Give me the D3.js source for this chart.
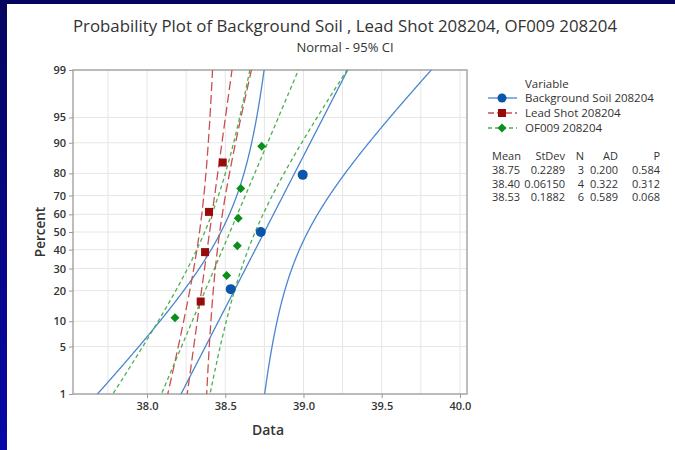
<!DOCTYPE html>
<html>
<head>
<meta charset="utf-8">
<script src="https://cdn.jsdelivr.net/npm/d3@7"></script>
<style>
  body { margin: 0; background: #fff; }
  svg text { font-family: "Open Sans", "Noto Sans", sans-serif; fill: #333; }
</style>
</head>
<body>
<div id="chart"></div>
<script>
// data
var seriesNames = ['Background Soil 208204', 'Lead Shot 208204', 'OF009 208204']
var bgSoil = [38.535, 38.727, 38.995]
var leadShot = [38.343, 38.371, 38.396, 38.484]
var of009 = [38.179, 38.509, 38.577, 38.583, 38.599, 38.733]
var means = [38.75, 38.40, 38.53]
var stdevs = [0.2289, 0.06150, 0.1882]
var counts = [3, 4, 6]
var adStats = ['0.200', '0.322', '0.589']
var pValues = ['0.584', '0.312', '0.068']
var meanLabels = ['38.75', '38.40', '38.53']
var stdevLabels = ['0.2289', '0.06150', '0.1882']
var xTicks = [38.0, 38.5, 39.0, 39.5, 40.0]
var xGrid = [37.75, 38.0, 38.25, 38.5, 38.75, 39.0, 39.25, 39.5, 39.75, 40.0]
var yTicks = [1, 5, 10, 20, 30, 40, 50, 60, 70, 80, 90, 95, 99]

var colors = ['#4a86cf', '#c85050', '#4caf50']
var markerColors = ['#0b56a8', '#990a0a', '#0a8f1a']
var dashes = [null, '9,4', '4,3']

// inverse normal cdf (Acklam)
function probit(p) {
  var a = [-3.969683028665376e+01, 2.209460984245205e+02, -2.759285104469687e+02, 1.383577518672690e+02, -3.066479806614716e+01, 2.506628277459239e+00]
  var b = [-5.447609879822406e+01, 1.615858368580409e+02, -1.556989798598866e+02, 6.680131188771972e+01, -1.328068155288572e+01]
  var c = [-7.784894002430293e-03, -3.223964580411365e-01, -2.400758277161838e+00, -2.549732539343734e+00, 4.374664141464968e+00, 2.938163982698783e+00]
  var d = [7.784695709041462e-03, 3.224671290700398e-01, 2.445134137142996e+00, 3.754408661907416e+00]
  var q, r
  if (p < 0.02425) {
    q = Math.sqrt(-2 * Math.log(p))
    return (((((c[0]*q+c[1])*q+c[2])*q+c[3])*q+c[4])*q+c[5]) / ((((d[0]*q+d[1])*q+d[2])*q+d[3])*q+1)
  } else if (p > 1 - 0.02425) {
    q = Math.sqrt(-2 * Math.log(1 - p))
    return -(((((c[0]*q+c[1])*q+c[2])*q+c[3])*q+c[4])*q+c[5]) / ((((d[0]*q+d[1])*q+d[2])*q+d[3])*q+1)
  }
  q = p - 0.5
  r = q * q
  return (((((a[0]*r+a[1])*r+a[2])*r+a[3])*r+a[4])*r+a[5])*q / (((((b[0]*r+b[1])*r+b[2])*r+b[3])*r+b[4])*r+1)
}

var W = 675, H = 450
var plot = {left: 73, top: 70, right: 467, bottom: 394}

var svg = d3.select('#chart').append('svg')
  .attr('width', W)
  .attr('height', H)

var defs = svg.append('defs')
var grad = defs.append('linearGradient').attr('id', 'edge')
  .attr('x1', 0).attr('y1', 0).attr('x2', 0).attr('y2', 1)
grad.append('stop').attr('offset', '0%').attr('stop-color', '#050560')
grad.append('stop').attr('offset', '100%').attr('stop-color', '#0808a8')
defs.append('clipPath').attr('id', 'clip').append('rect')
  .attr('x', plot.left).attr('y', plot.top)
  .attr('width', plot.right - plot.left).attr('height', plot.bottom - plot.top)

// frame of the screenshot
svg.append('rect').attr('x', 0).attr('y', 0).attr('width', 7).attr('height', H).attr('fill', 'url(#edge)')
svg.append('rect').attr('x', 0).attr('y', 0).attr('width', W).attr('height', 4).attr('fill', '#050560')

var x = d3.scaleLinear().domain([37.527, 40.045]).range([plot.left, plot.right])
var zMax = probit(0.99)
var y = d3.scaleLinear().domain([-zMax, zMax]).range([plot.bottom, plot.top])
var yp = function (p) { return y(probit(p / 100)) }

// grid
svg.append('g').selectAll('line').data(xGrid).join('line')
  .attr('x1', d => x(d)).attr('x2', d => x(d))
  .attr('y1', plot.top).attr('y2', plot.bottom)
  .attr('stroke', '#e6e6e6').attr('stroke-width', 1)
svg.append('g').selectAll('line').data(yTicks).join('line')
  .attr('x1', plot.left).attr('x2', plot.right)
  .attr('y1', d => yp(d)).attr('y2', d => yp(d))
  .attr('stroke', '#e6e6e6').attr('stroke-width', 1)

svg.append('rect')
  .attr('x', plot.left).attr('y', plot.top)
  .attr('width', plot.right - plot.left).attr('height', plot.bottom - plot.top)
  .attr('fill', 'none').attr('stroke', '#a8a8a8').attr('stroke-width', 1.5)

// fitted lines and 95% bands
var zs = d3.range(-2.4, 2.401, 0.02)
var ciMult = 2.1
var lines = svg.append('g').attr('clip-path', 'url(#clip)')
var line = d3.line().x(d => x(d[0])).y(d => y(d[1]))

seriesNames.forEach(function (name, i) {
  var m = means[i], s = stdevs[i], n = counts[i]
  var half = z => ciMult * s * Math.sqrt(1 / n + z * z / (2 * n))
  var curves = [
    zs.map(z => [m + z * s - half(z), z]),
    zs.map(z => [m + z * s, z]),
    zs.map(z => [m + z * s + half(z), z])
  ]
  lines.selectAll(null).data(curves).join('path')
    .attr('d', line)
    .attr('fill', 'none')
    .attr('stroke', colors[i])
    .attr('stroke-width', 1.3)
    .attr('stroke-dasharray', dashes[i])
})

// points, median ranks
var sets = [bgSoil, leadShot, of009]
var pts = svg.append('g')
sets.forEach(function (vals, i) {
  var n = vals.length
  var data = vals.slice().sort(d3.ascending).map((v, k) => [v, 100 * (k + 1 - 0.3) / (n + 0.4)])
  var g = pts.selectAll(null).data(data).join('g')
    .attr('transform', d => 'translate(' + x(d[0]) + ',' + yp(d[1]) + ')')
  if (i === 0) g.append('circle').attr('r', 5).attr('fill', markerColors[i])
  else if (i === 1) g.append('rect').attr('x', -4).attr('y', -4).attr('width', 8).attr('height', 8).attr('fill', markerColors[i])
  else g.append('path').attr('d', 'M0,-4.5L4.5,0L0,4.5L-4.5,0Z').attr('fill', markerColors[i])
})

// axes
var xAxis = d3.axisBottom(x).tickValues(xTicks).tickFormat(d3.format('.1f')).tickSize(4).tickPadding(4)
var yAxis = d3.axisLeft(y).tickValues(yTicks.map(p => probit(p / 100))).tickFormat((d, k) => yTicks[k]).tickSize(4).tickPadding(3)

var gx = svg.append('g').attr('transform', 'translate(0,' + plot.bottom + ')').call(xAxis)
var gy = svg.append('g').attr('transform', 'translate(' + plot.left + ',0)').call(yAxis)
;[gx, gy].forEach(function (g) {
  g.select('.domain').remove()
  g.selectAll('line').attr('stroke', '#999')
  g.selectAll('text').style('font-size', '11px').style('font-weight', 600).attr('fill', '#333')
})

svg.append('text').attr('x', 345).attr('y', 32)
  .attr('text-anchor', 'middle').style('font-size', '16.5px').style('font-weight', 500)
  .attr('textLength', 544).attr('lengthAdjust', 'spacingAndGlyphs')
  .text('Probability Plot of Background Soil , Lead Shot 208204, OF009 208204')
svg.append('text').attr('x', 345).attr('y', 52)
  .attr('text-anchor', 'middle').style('font-size', '13px').attr('fill', '#595959')
  .text('Normal - 95% CI')
svg.append('text').attr('x', 268).attr('y', 435)
  .attr('text-anchor', 'middle').style('font-size', '14px').style('font-weight', 600)
  .text('Data')
svg.append('text').attr('transform', 'translate(45,232) rotate(-90)')
  .attr('text-anchor', 'middle').style('font-size', '13.5px').style('font-weight', 600)
  .text('Percent')

// legend
var leg = svg.append('g')
leg.append('text').attr('x', 525).attr('y', 88).style('font-size', '11.5px').text('Variable')
seriesNames.forEach(function (name, i) {
  var ly = 98 + i * 15
  leg.append('line').attr('x1', 488).attr('x2', 517).attr('y1', ly).attr('y2', ly)
    .attr('stroke', colors[i]).attr('stroke-width', 1.3).attr('stroke-dasharray', dashes[i] ? (i === 1 ? '6,3' : '4,3') : null)
  var mk = leg.append('g').attr('transform', 'translate(502,' + ly + ')')
  if (i === 0) mk.append('circle').attr('r', 4.5).attr('fill', markerColors[i])
  else if (i === 1) mk.append('rect').attr('x', -4).attr('y', -4).attr('width', 8).attr('height', 8).attr('fill', markerColors[i])
  else mk.append('path').attr('d', 'M0,-4.5L4.5,0L0,4.5L-4.5,0Z').attr('fill', markerColors[i])
  leg.append('text').attr('x', 525).attr('y', ly + 4).style('font-size', '11.5px').text(name)
})

// stats table
var cols = [
  {x: 492, anchor: 'start', head: 'Mean', vals: meanLabels},
  {x: 565, anchor: 'end', head: 'StDev', vals: stdevLabels},
  {x: 584, anchor: 'end', head: 'N', vals: counts},
  {x: 618, anchor: 'end', head: 'AD', vals: adStats},
  {x: 660, anchor: 'end', head: 'P', vals: pValues}
]
cols.forEach(function (c) {
  leg.append('text').attr('x', c.x).attr('y', 160).attr('text-anchor', c.anchor).style('font-size', '11px').text(c.head)
  c.vals.forEach(function (v, k) {
    leg.append('text').attr('x', c.x).attr('y', 174 + k * 13.5).attr('text-anchor', c.anchor).style('font-size', '11px').text(v)
  })
})
</script>
</body>
</html>
